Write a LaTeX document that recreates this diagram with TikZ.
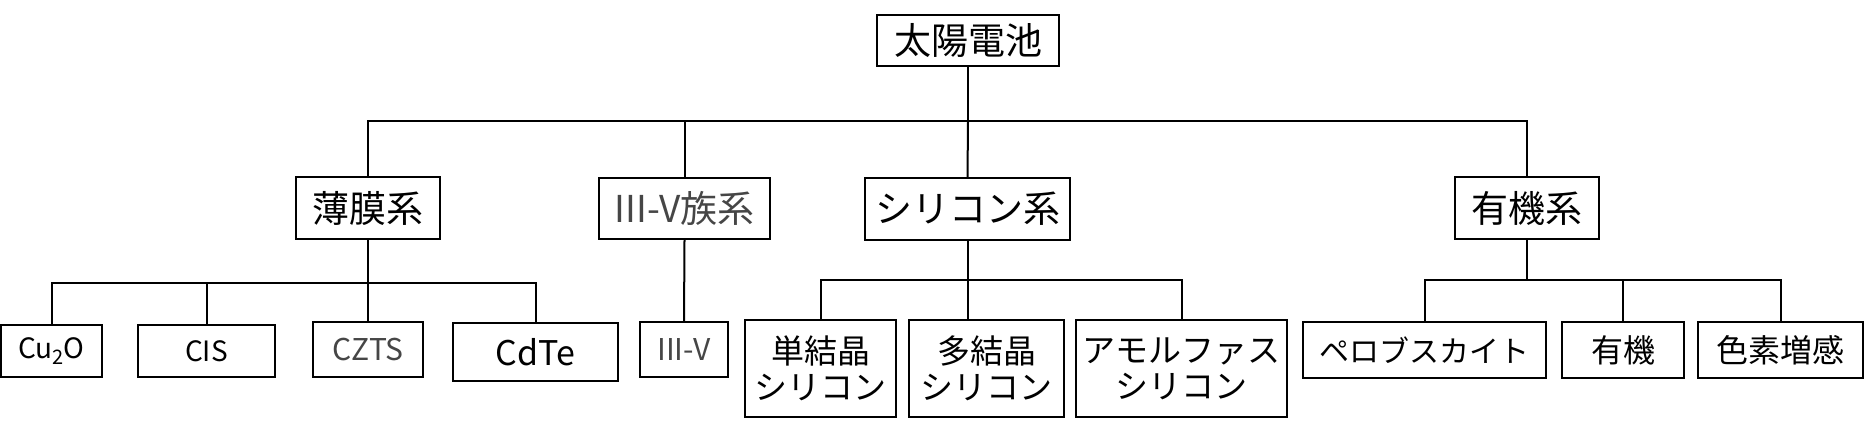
\documentclass[tikz,border=0pt]{standalone}
\usepackage{fontspec}
\setmainfont{Noto Sans CJK JP}
\definecolor{txtgrey}{RGB}{70,70,70}

\begin{document}
\begin{tikzpicture}[x=0.5pt,y=-0.5pt,line cap=rect,
  box/.style={draw,line width=1pt,inner sep=0pt,align=center},
  link/.style={line width=1pt}]
\useasboundingbox (0,0) rectangle (1868,428);
% top
\node[box,minimum width=91pt,minimum height=25.5pt,font=\fontsize{18.5}{20}\selectfont] (cell) at (968,40.5) {太陽電池};
% second row
\node[box,minimum width=72pt,minimum height=31pt,font=\fontsize{18.5}{20}\selectfont] (thin) at (368,208) {薄膜系};
\node[box,minimum width=85.5pt,minimum height=30.5pt,font=\fontsize{18.5}{20}\selectfont,text=txtgrey] (groupiiiv) at (684.5,208.5) {III-V族系};
\node[box,minimum width=102.5pt,minimum height=31pt,font=\fontsize{18.5}{20}\selectfont] (silicon) at (967.5,209) {シリコン系};
\node[box,minimum width=72pt,minimum height=31pt,font=\fontsize{18.5}{20}\selectfont] (organic) at (1527,208) {有機系};
% third row
\node[box,minimum width=50.5pt,minimum height=26pt,font=\fontsize{14}{16}\selectfont] (cuo) at (51.5,351) {Cu\raisebox{-0.35ex}{\fontsize{10}{10}\selectfont 2}O};
\node[box,minimum width=68.5pt,minimum height=26pt,font=\fontsize{14}{16}\selectfont] (cis) at (206.5,351) {CIS};
\node[box,minimum width=55pt,minimum height=27.5pt,font=\fontsize{15}{17}\selectfont,text=txtgrey] (czts) at (368,349.5) {CZTS};
\node[box,minimum width=82.5pt,minimum height=29pt,font=\fontsize{17}{19}\selectfont] (cdte) at (535.5,352) {CdTe};
\node[box,minimum width=44pt,minimum height=27.5pt,font=\fontsize{15}{17}\selectfont,text=txtgrey] (iiiv) at (684,349.5) {III-V};
\node[box,minimum width=75.5pt,minimum height=48.5pt,font=\fontsize{16.5}{18}\selectfont] (mono) at (820.5,368.5) {単結晶\\シリコン};
\node[box,minimum width=77.5pt,minimum height=48.5pt,font=\fontsize{16.5}{18}\selectfont] (poly) at (986.5,368.5) {多結晶\\シリコン};
\node[box,minimum width=105.5pt,minimum height=48.5pt,font=\fontsize{16.5}{18}\selectfont] (amorph) at (1181.5,368.5) {アモルファス\\シリコン};
\node[box,minimum width=121.5pt,minimum height=28pt,font=\fontsize{15}{17}\selectfont] (perov) at (1424.5,350) {ペロブスカイト};
\node[box,minimum width=61pt,minimum height=28pt,font=\fontsize{16}{18}\selectfont] (org) at (1623,350) {有機};
\node[box,minimum width=82.5pt,minimum height=28pt,font=\fontsize{16}{18}\selectfont] (dye) at (1780.5,350) {色素増感};
% buses
\coordinate (busa) at (968,121);
\coordinate (busb) at (368,283);
\coordinate (busc) at (968,280);
\coordinate (busd) at (1527,280);
% lines
\draw[link] (cell.south) -- (busa);
\draw[link] (thin.north) |- (busa);
\draw[link] (groupiiiv.north) |- (busa);
\draw[link] (silicon.north) -- (busa);
\draw[link] (organic.north) |- (busa);
\draw[link] (thin.south) -- (busb);
\draw[link] (cuo.north) |- (busb);
\draw[link] (cis.north) |- (busb);
\draw[link] (czts.north) -- (busb);
\draw[link] (cdte.north) |- (busb);
\draw[link] (groupiiiv.south) -- (iiiv.north);
\draw[link] (silicon.south) -- (silicon.south |- poly.north);
\draw[link] (mono.north) |- (busc);
\draw[link] (amorph.north) |- (busc);
\draw[link] (organic.south) -- (busd);
\draw[link] (perov.north) |- (busd);
\draw[link] (org.north) |- (busd);
\draw[link] (dye.north) |- (busd);
\end{tikzpicture}
\end{document}
